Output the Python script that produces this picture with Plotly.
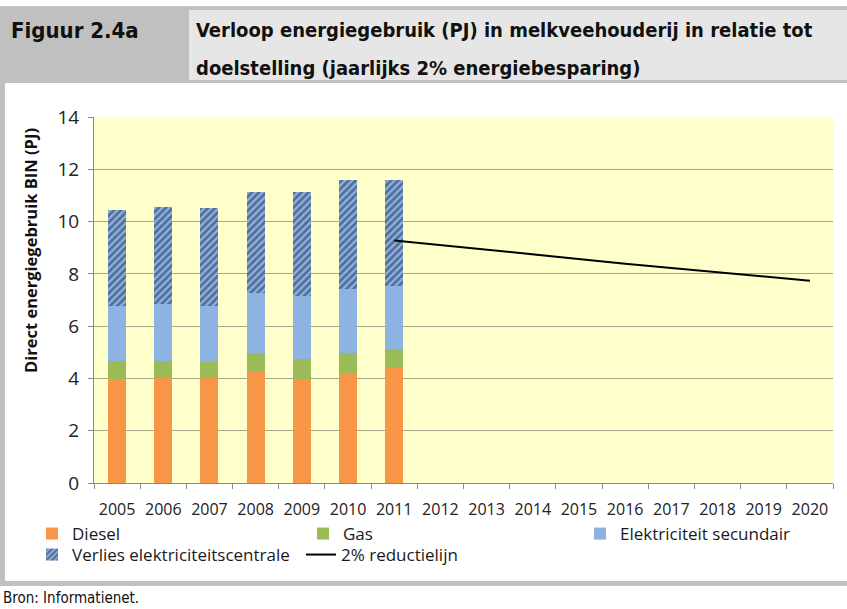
import plotly.graph_objects as go

years = [str(y) for y in range(2005, 2021)]
bar_years = ["2005", "2006", "2007", "2008", "2009", "2010", "2011"]
diesel = [3.97, 4.00, 4.00, 4.30, 3.97, 4.20, 4.45]
gas = [0.68, 0.65, 0.61, 0.67, 0.77, 0.78, 0.67]
elek_sec = [2.13, 2.21, 2.17, 2.29, 2.40, 2.46, 2.43]
verlies = [3.68, 3.69, 3.73, 3.88, 4.00, 4.14, 4.03]
line_years = ["2011", "2012", "2013", "2014", "2015", "2016", "2017", "2018", "2019", "2020"]
reductie = [9.28, 9.10, 8.91, 8.74, 8.56, 8.39, 8.22, 8.06, 7.90, 7.74]
y_ticks = [0, 2, 4, 6, 8, 10, 12, 14]

W, H = 847, 609
L, R, T, B = 94, 833, 117, 483  # plot area in pixels

def px(x):
    return (x - L) / (R - L)

def py(y):
    return (B - y) / (B - T)

FONT = "Open Sans, Lato, sans-serif"
HFONT = "DejaVu Sans Condensed, sans-serif"

fig = go.Figure()
fig.add_trace(go.Bar(x=bar_years, y=diesel, name="Diesel", marker=dict(color="#F79646", line=dict(width=0)), legend="legend"))
fig.add_trace(go.Bar(x=bar_years, y=gas, name="Gas", marker=dict(color="#9BBB59", line=dict(width=0)), legend="legend2"))
fig.add_trace(go.Bar(x=bar_years, y=elek_sec, name="Elektriciteit secundair", marker=dict(color="#8DB3E2", line=dict(width=0)), legend="legend3"))
fig.add_trace(go.Bar(x=bar_years, y=verlies, name="Verlies elektriciteitscentrale",
                     marker=dict(color="#8DB3E2", line=dict(width=0),
                                 pattern=dict(shape="/", fgcolor="#1C2A48", bgcolor="#8DB3E2", size=5, solidity=0.55)),
                     legend="legend4"))
fig.add_trace(go.Scatter(x=line_years, y=reductie, name="2% reductielijn", mode="lines",
                         line=dict(color="black", width=2), legend="legend4"))

shapes = []
shapes.append(dict(type="rect", xref="paper", yref="paper", x0=px(0), x1=px(W), y0=py(83), y1=py(6),
                   fillcolor="#C0C0C0", line=dict(width=0), layer="below"))
shapes.append(dict(type="rect", xref="paper", yref="paper", x0=px(189), x1=px(W), y0=py(80), y1=py(10),
                   fillcolor="#E6E6E6", line=dict(width=0), layer="below"))
shapes.append(dict(type="rect", xref="paper", yref="paper", x0=px(0), x1=px(5), y0=py(586), y1=py(83),
                   fillcolor="#C0C0C0", line=dict(width=0), layer="below"))
shapes.append(dict(type="rect", xref="paper", yref="paper", x0=px(0), x1=px(W), y0=py(586), y1=py(581),
                   fillcolor="#C0C0C0", line=dict(width=0), layer="below"))

annotations = [
    dict(text="<b>Figuur 2.4a</b>", xref="paper", yref="paper", x=px(9), y=py(30), xanchor="left", yanchor="middle",
         showarrow=False, font=dict(family=HFONT, size=22, color="#111111")),
    dict(text="<b>Verloop energiegebruik (PJ) in melkveehouderij in relatie tot</b>", xref="paper", yref="paper",
         x=px(194), y=py(30), xanchor="left", yanchor="middle", showarrow=False,
         font=dict(family=HFONT, size=20, color="#111111")),
    dict(text="<b>doelstelling (jaarlijks 2% energiebesparing)</b>", xref="paper", yref="paper",
         x=px(194), y=py(68), xanchor="left", yanchor="middle", showarrow=False,
         font=dict(family=HFONT, size=20, color="#111111")),
    dict(text="Bron: Informatienet.", xref="paper", yref="paper", x=px(1), y=py(598), xanchor="left", yanchor="middle",
         showarrow=False, font=dict(family=HFONT, size=15, color="#111111")),
    dict(text="<b>Direct energiegebruik BIN (PJ)</b>", xref="paper", yref="paper", x=px(30), y=py(251),
         xanchor="center", yanchor="middle", textangle=-90, showarrow=False,
         font=dict(family=FONT, size=16.5, color="#111111")),
]

leg_common = dict(orientation="h", xanchor="left", yanchor="middle", bgcolor="rgba(0,0,0,0)",
                  font=dict(family=FONT, size=17, color="#1a1a1a"), itemclick=False, itemdoubleclick=False,
                  traceorder="normal", tracegroupgap=0)

fig.update_layout(
    width=W, height=H, autosize=False,
    margin=dict(l=L, r=W - R, t=T, b=H - B, pad=0, autoexpand=False),
    paper_bgcolor="white",
    plot_bgcolor="#FFFFCC",
    showlegend=True,
    barmode="stack",
    bargap=0.61,
    font=dict(family=FONT, size=15, color="#222222"),
    xaxis=dict(type="category", categoryorder="array", categoryarray=years, range=[-0.5, 15.5],
               tickson="boundaries", ticks="outside", ticklen=5, tickcolor="#888888",
               showline=True, linecolor="#888888", linewidth=1, showgrid=False,
               ticklabelstandoff=12,
               tickfont=dict(family=FONT, size=16, color="#222222")),
    yaxis=dict(range=[0, 14], tickvals=y_ticks, ticks="outside", ticklen=5, tickcolor="#888888",
               showline=True, linecolor="#888888", linewidth=1,
               showgrid=True, gridcolor="#A8A88A", gridwidth=1, zeroline=False,
               ticklabelstandoff=5,
               tickfont=dict(family=FONT, size=19, color="#222222")),
    legend=dict(x=px(32), y=py(534), **leg_common),
    legend2=dict(x=px(303), y=py(534), **leg_common),
    legend3=dict(x=px(580), y=py(534), **leg_common),
    legend4=dict(x=px(32), y=py(555), entrywidth=224, entrywidthmode="pixels", **leg_common),
    shapes=shapes,
    annotations=annotations,
)

fig.write_html(
    "out.html",
    config=dict(responsive=False, displayModeBar=False),
    post_script="document.body.style.margin='0px';document.body.style.padding='0px';"
                "document.body.style.overflow='hidden';",
)
